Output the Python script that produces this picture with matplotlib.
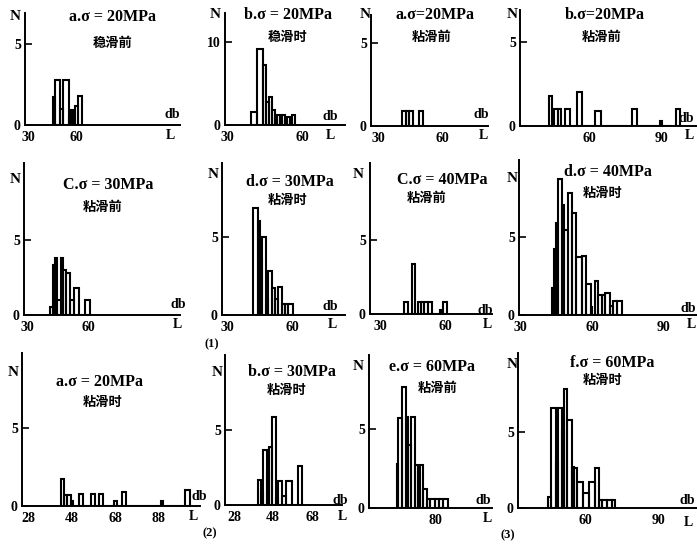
import matplotlib
matplotlib.use('Agg')
import matplotlib.pyplot as plt
import numpy as np

W, H = 697, 548

# ---------------- data (bin edges in dB, counts N) ----------------
p1_edges = [45.6, 47, 50, 52, 55.6, 57, 58, 59.4, 61.2, 63.6]
p1_counts = [1.7, 2.8, 1.0, 2.8, 0.5, 0.9, 0, 1.2, 1.8]

p2_edges = [39.6, 42, 44.4, 45.6, 46.8, 48, 49, 50, 51, 52, 53, 54, 55, 56, 57.2]
p2_counts = [1.6, 9.2, 7.2, 2.8, 3.4, 1.8, 0.8, 1.2, 0.5, 1.2, 0.5, 1.0, 0.3, 1.2]

p3_edges = [41.4, 43.0, 44.7, 46.6, 49.2, 51.3]
p3_counts = [0.9, 0.9, 0.9, 0, 0.9]

p4_edges = [43.7, 44.8, 45.7, 47.1, 48.5, 50.1, 52.3, 54.9, 57, 62.5, 65, 77.6, 79.8, 89.2, 90, 95.7, 97.4]
p4_counts = [1.8, 0, 1, 1, 0, 1, 0, 2, 0, 0.9, 0, 1, 0, 0.3, 0, 1]

p5_edges = [41.3, 42.7, 43.8, 44.9, 46.6, 47.8, 49.1, 51.2, 52.8, 55.3, 58.6, 61]
p5_counts = [0.5, 3.3, 3.8, 1.0, 3.8, 3.0, 2.8, 1.0, 1.8, 0, 1.0]

p6_edges = [42.1, 44.1, 45.2, 46, 47.8, 48.8, 50.6, 52.1, 53.6, 55.2, 56.7, 58.2, 60.6]
p6_counts = [6.8, 6.0, 3.6, 5.0, 1.0, 2.8, 1.7, 1.0, 1.8, 0.7, 0.7, 0.7]

p7_edges = [41.2, 42.8, 44.6, 46.1, 47.4, 48.9, 50.4, 52.3, 54.1, 57.6, 58.7, 59.2, 60.7]
p7_counts = [0.8, 0, 3.4, 0, 0.8, 0.8, 0.8, 0.8, 0, 0.3, 0, 0.8]

p8_edges = [43.5, 44.3, 44.9, 45.7, 47.6, 48.5, 49.9, 51.5, 53.2, 55.7, 57.4, 59.6, 60.1,
            61.3, 62.6, 64, 65.4, 67.5, 68.9, 70.3, 72.4]
p8_counts = [1.7, 4.2, 5.9, 8.7, 7.0, 5.4, 7.8, 6.5, 3.7, 3.8, 2.0, 0.5,
             0, 2.2, 1.3, 1.3, 1.4, 0.6, 0.9, 0.9]

p9_edges = [43, 44.5, 45.7, 47.6, 48.8, 51.4, 53.4, 56.8, 58.7, 60.4, 62.5, 67.6, 68.7,
            71, 73, 89.3, 90.1, 100, 102.3]
p9_counts = [1.7, 0.7, 0.7, 0.3, 0, 0.8, 0, 0.8, 0, 0.8, 0, 0.3, 0, 0.9, 0, 0.3, 0, 1.0]

p10_edges = [40.2, 41.8, 43, 44.8, 46.1, 47.3, 49.4, 50.7, 52.4, 54.5, 57.6, 60.7, 62.7]
p10_counts = [1.7, 0.8, 3.7, 2.3, 3.9, 5.9, 0.5, 1.6, 0.6, 1.6, 0, 2.6]

p11_edges = [62.3, 63.1, 64.7, 66.5, 67.7, 68.9, 70.8, 72, 73.1, 74.6, 76.2, 77.7, 80, 81.8, 83.8, 86.1]
p11_counts = [2.8, 5.7, 7.7, 5.8, 4.0, 5.8, 2.7, 1.0, 2.7, 1.2, 0.6, 0.6, 0.6, 0.6, 0.6]

p12_edges = [44.9, 46, 47.9, 49, 50.4, 51.5, 52.5, 54.5, 55.6, 56.6, 59.3, 61.4, 64.1, 65.5,
             67.1, 68.9, 71, 72.3]
p12_counts = [0.7, 6.6, 3.0, 6.6, 5.1, 7.8, 5.8, 2.7, 2.6, 1.7, 1.0, 1.7, 2.6, 0.5, 0.5, 0.5, 0.5]

titles = ["a.σ = 20MPa", "b.σ = 20MPa", "a.σ=20MPa", "b.σ=20MPa",
          "C.σ = 30MPa", "d.σ = 30MPa", "C.σ = 40MPa", "d.σ = 40MPa",
          "a.σ = 20MPa", "b.σ = 30MPa", "e.σ = 60MPa", "f.σ = 60MPa"]
subtitles = ["稳滑前", "稳滑时", "粘滑前", "粘滑前",
             "粘滑前", "粘滑时", "粘滑前", "粘滑时",
             "粘滑时", "粘滑时", "粘滑前", "粘滑时"]
xtick_sets = [[30, 60], [30, 60], [30, 60], [60, 90],
              [30, 60], [30, 60], [30, 60], [30, 60, 90],
              [28, 48, 68, 88], [28, 48, 68], [80], [60, 90]]
ytick_sets = [[0, 5], [0, 10], [0, 5], [0, 5],
              [0, 5], [0, 5], [0, 5], [0, 5],
              [0, 5], [0, 5], [0, 5], [0, 5]]
part_labels = ["(1)", "(2)", "(3)"]

edges_all = [p1_edges, p2_edges, p3_edges, p4_edges, p5_edges, p6_edges,
             p7_edges, p8_edges, p9_edges, p10_edges, p11_edges, p12_edges]
counts_all = [p1_counts, p2_counts, p3_counts, p4_counts, p5_counts, p6_counts,
              p7_counts, p8_counts, p9_counts, p10_counts, p11_counts, p12_counts]

# ---------------- layout (pixels) ----------------
# x0, x1, ytop, ybase, xlim, ylimtop, title xy, subtitle xy, N xy, db xy, L xy
layout = [
    (25, 180, 13, 125, (28.1, 125), 6.9, (113, 17), (113, 43), (15, 17), (172, 115), (170, 135)),
    (225, 345, 13, 125, (29.2, 77.2), 13.5, (288, 15), (288, 37), (215, 15), (330, 117), (330, 135)),
    (371, 488, 15, 126, (26.7, 81.6), 6.7, (435, 15), (432, 37), (365, 15), (481, 115), (483, 135)),
    (520, 697, 10, 126, (31.6, 104.4), 6.9, (605, 15), (602, 37), (512, 15), (686, 118), (689, 135)),
    (24, 180, 163, 315, (28.5, 105), 10.1, (108, 185), (103, 207), (15, 180), (178, 305), (177, 325)),
    (222, 345, 163, 315, (27.7, 84.4), 9.7, (290, 182), (288, 200), (213, 175), (330, 307), (332, 325)),
    (370, 492, 163, 314, (25.4, 81.6), 10.2, (442, 180), (427, 198), (358, 175), (485, 310), (487, 325)),
    (519, 697, 160, 315, (29.6, 103.75), 9.9, (608, 172), (603, 193), (512, 178), (688, 308), (691, 325)),
    (22, 200, 353, 506, (25.2, 107), 9.8, (100, 382), (103, 402), (13, 372), (199, 497), (193, 517)),
    (225, 342, 355, 505, (23.4, 83.4), 10.0, (292, 372), (287, 390), (217, 372), (340, 500), (342, 517)),
    (369, 492, 355, 508, (49.6, 106.3), 9.7, (432, 367), (438, 388), (358, 367), (483, 500), (487, 518)),
    (518, 697, 353, 508, (32.4, 106), 10.2, (612, 363), (603, 380), (512, 365), (687, 500), (688, 522)),
]
part_pos = [(212, 344), (210, 533), (508, 535)]

serif = ['Liberation Serif', 'DejaVu Serif']
cjk = ['Noto Sans CJK SC', 'DejaVu Sans']

fig = plt.figure(figsize=(W / 100, H / 100), dpi=100)
fig.patch.set_facecolor('white')


def fx(x):
    return x / W


def fy(y):
    return 1 - y / H


for i, lay in enumerate(layout):
    x0, x1, yt, yb, xl, ytop, tpos, spos, npos, dbpos, lpos = lay
    ax = fig.add_axes([fx(x0), fy(yb), (x1 - x0) / W, (yb - yt) / H])
    e = np.array(edges_all[i], dtype=float)
    c = np.array(counts_all[i], dtype=float)
    ax.bar(e[:-1], c, width=np.diff(e), align='edge', fill=False,
           edgecolor='black', linewidth=1.5)
    ax.set_xlim(*xl)
    ax.set_ylim(0, ytop)
    for s in ['top', 'right']:
        ax.spines[s].set_visible(False)
    for s in ['left', 'bottom']:
        ax.spines[s].set_linewidth(1.4)
        ax.spines[s].set_color('black')
    ax.set_xticks(xtick_sets[i])
    ax.set_yticks(ytick_sets[i])
    ax.tick_params(axis='x', length=0, pad=4, labelsize=10)
    ax.tick_params(axis='y', direction='in', length=5, width=1.2, pad=3, labelsize=10)
    for lab in ax.get_xticklabels() + ax.get_yticklabels():
        lab.set_fontfamily(serif)
        lab.set_fontweight('bold')
    ax.patch.set_alpha(0)

    fig.text(fx(tpos[0]), fy(tpos[1]), titles[i], ha='center', va='center',
             fontsize=11.5, fontweight='bold', family=serif)
    fig.text(fx(spos[0]), fy(spos[1]), subtitles[i], ha='center', va='center',
             fontsize=9.5, fontweight='bold', family=cjk)
    fig.text(fx(npos[0]), fy(npos[1]), "N", ha='center', va='center',
             fontsize=11, fontweight='bold', family=serif)
    fig.text(fx(dbpos[0]), fy(dbpos[1]), "db", ha='center', va='center',
             fontsize=10, fontweight='bold', family=serif)
    fig.text(fx(lpos[0]), fy(lpos[1]), "L", ha='center', va='center',
             fontsize=10, fontweight='bold', family=serif)

for lab, (px, py) in zip(part_labels, part_pos):
    fig.text(fx(px), fy(py), lab, ha='center', va='center', fontsize=9,
             fontweight='bold', family=serif)

fig.savefig('out.png', dpi=100, facecolor='white')
